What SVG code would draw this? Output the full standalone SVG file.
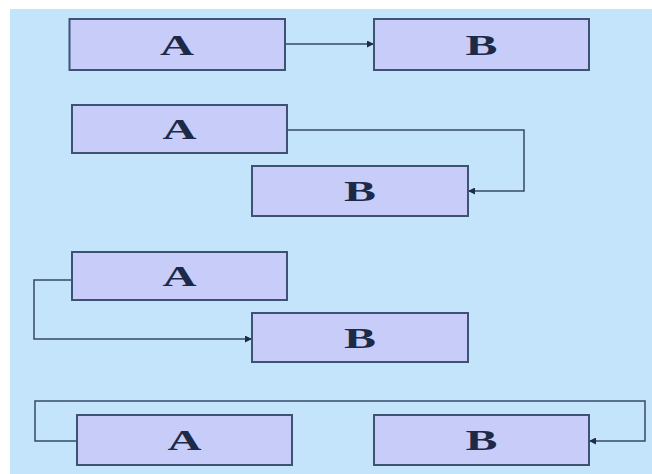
<svg xmlns="http://www.w3.org/2000/svg" width="652" height="474" viewBox="0 0 652 474">
<defs>
<marker id="ah" viewBox="0 0 10 10" refX="10" refY="5" markerWidth="8" markerHeight="7" markerUnits="userSpaceOnUse" orient="auto">
<path d="M0,0 L10,5 L0,10 z" fill="#1e2e48"/>
</marker>
<style>
.box{fill:#c8ccf8;stroke:#3e5274;stroke-width:2}
.lbl{font-family:"Liberation Serif","Times New Roman",serif;font-weight:bold;font-size:30px;fill:#1c2a48;text-anchor:middle}
.con{fill:none;stroke:#34486a;stroke-width:1.5;marker-end:url(#ah)}
</style>
</defs>
<rect x="0" y="0" width="652" height="474" fill="#ffffff"/>
<rect x="10" y="9" width="642" height="465" fill="#c4e4fb"/>
<g id="connectors">
<path class="con" d="M285,44 H374"/>
<path class="con" d="M287,130 H524 V191 H468"/>
<path class="con" d="M72,280 H34 V339 H252"/>
<path class="con" d="M77,441 H35 V401 H645 V441 H589"/>
</g>
<g id="r1A"><rect class="box" x="69.5" y="19" width="215.5" height="51"/><text class="lbl" x="177" y="55" textLength="34" lengthAdjust="spacingAndGlyphs">A</text></g>
<g id="r1B"><rect class="box" x="374" y="19" width="215" height="51"/><text class="lbl" x="481.5" y="55" textLength="32" lengthAdjust="spacingAndGlyphs">B</text></g>
<g id="r2A"><rect class="box" x="72" y="105" width="215" height="48"/><text class="lbl" x="179.5" y="139" textLength="34" lengthAdjust="spacingAndGlyphs">A</text></g>
<g id="r2B"><rect class="box" x="252" y="166" width="216" height="50"/><text class="lbl" x="360" y="201" textLength="32" lengthAdjust="spacingAndGlyphs">B</text></g>
<g id="r3A"><rect class="box" x="72" y="252" width="215" height="48"/><text class="lbl" x="179.5" y="286" textLength="34" lengthAdjust="spacingAndGlyphs">A</text></g>
<g id="r3B"><rect class="box" x="252" y="313" width="216" height="49"/><text class="lbl" x="360" y="348" textLength="32" lengthAdjust="spacingAndGlyphs">B</text></g>
<g id="r4A"><rect class="box" x="77" y="415" width="215" height="50"/><text class="lbl" x="184.5" y="450" textLength="34" lengthAdjust="spacingAndGlyphs">A</text></g>
<g id="r4B"><rect class="box" x="374" y="415" width="215" height="50"/><text class="lbl" x="481.5" y="450" textLength="32" lengthAdjust="spacingAndGlyphs">B</text></g>
</svg>
